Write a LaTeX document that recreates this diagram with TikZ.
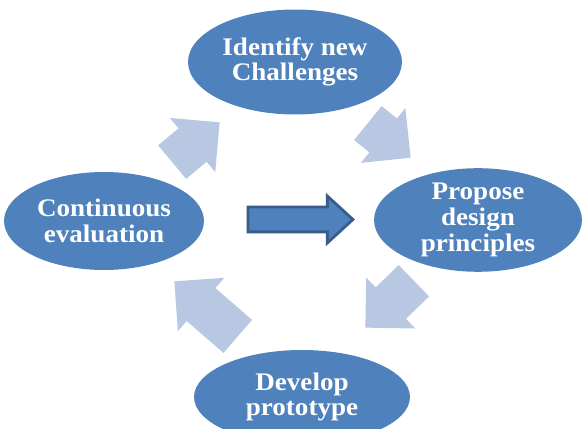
\documentclass[tikz,border=0pt]{standalone}
\usepackage{fontspec}
\setmainfont{Liberation Serif}[FakeStretch=1.07]
\usepackage{tikz}
\usetikzlibrary{shapes.geometric,shapes.arrows}
\definecolor{stageblue}{RGB}{79,129,189}
\definecolor{stageedge}{RGB}{56,93,138}
\definecolor{cyclelight}{RGB}{185,200,226}

\begin{document}
\begin{tikzpicture}[x=0.02cm, y=0.02cm,
  stage/.style={ellipse, fill=stageblue, text=white, inner sep=0pt, align=center,
    font=\fontsize{14.4}{14.6}\selectfont\bfseries},
  cyc/.style={single arrow, fill=cyclelight, inner xsep=0pt, inner ysep=0.43cm,
    single arrow head extend=0.27cm, single arrow tip angle=90, anchor=tip}]

  % canvas
  \useasboundingbox (0,0) rectangle (582,429);
  \clip (0,0) rectangle (582,429);

  % Stages of the cycle
  \node[stage, minimum width=4.28cm, minimum height=2.10cm] (ident) at (295,367) {Identify new\\Challenges};
  \node[stage, minimum width=4.16cm, minimum height=1.92cm] (propose) at (478,209) {Propose\\design\\principles};
  \node[stage, minimum width=4.32cm, minimum height=1.88cm] (develop) at (302,32) {Develop\\prototype};
  \node[stage, minimum width=4.00cm, minimum height=1.96cm] (evalu) at (104,208) {Continuous\\evaluation};

  % Light arrows going round (placed by their tips)
  \node[cyc, minimum height=1.24cm, rotate=40]  (nw) at (220,307) {};
  \node[cyc, minimum height=1.10cm, rotate=-39] (ne) at (411,271) {};
  \node[cyc, minimum height=1.35cm, rotate=224] (se) at (365,101) {};
  \node[cyc, minimum height=1.68cm, rotate=139] (sw) at (174,148) {};

  % Middle arrow
  \node[single arrow, fill=stageblue, draw=stageedge, line width=1.6pt,
    inner xsep=0pt, inner ysep=0.22cm, minimum height=2.10cm, anchor=tip,
    single arrow head extend=0.22cm, single arrow tip angle=85] (mid) at (355,209.5) {};
\end{tikzpicture}
\end{document}
